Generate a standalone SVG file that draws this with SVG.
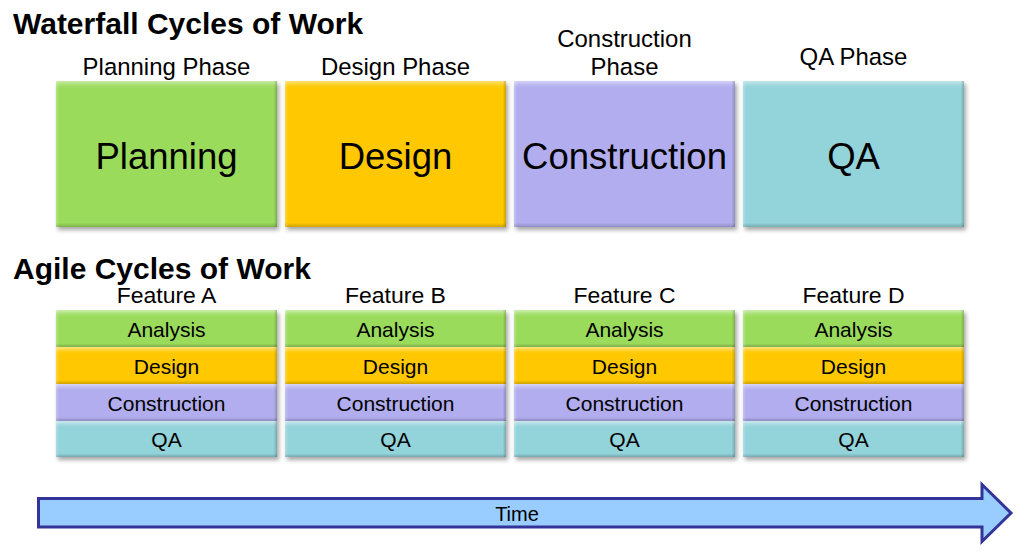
<svg xmlns="http://www.w3.org/2000/svg" width="1026" height="554" viewBox="0 0 1026 554">
<defs>
<filter id="sh" x="-5%" y="-5%" width="115%" height="130%">
<feDropShadow dx="2" dy="3" stdDeviation="2" flood-color="#000" flood-opacity="0.35"/>
</filter>
<linearGradient id="bev" x1="0" y1="0" x2="0" y2="1">
<stop offset="0" stop-color="#fff" stop-opacity="0.45"/>
<stop offset="0.03" stop-color="#fff" stop-opacity="0.1"/>
<stop offset="0.05" stop-color="#fff" stop-opacity="0"/>
<stop offset="0.97" stop-color="#000" stop-opacity="0"/>
<stop offset="1" stop-color="#000" stop-opacity="0.18"/>
</linearGradient>
<linearGradient id="bevs" x1="0" y1="0" x2="0" y2="1">
<stop offset="0" stop-color="#fff" stop-opacity="0.5"/>
<stop offset="0.12" stop-color="#fff" stop-opacity="0.1"/>
<stop offset="0.18" stop-color="#fff" stop-opacity="0"/>
<stop offset="0.9" stop-color="#000" stop-opacity="0"/>
<stop offset="1" stop-color="#000" stop-opacity="0.2"/>
</linearGradient>
<linearGradient id="bevh" x1="0" y1="0" x2="1" y2="0">
<stop offset="0" stop-color="#fff" stop-opacity="0.25"/>
<stop offset="0.015" stop-color="#fff" stop-opacity="0"/>
<stop offset="0.985" stop-color="#000" stop-opacity="0"/>
<stop offset="1" stop-color="#000" stop-opacity="0.2"/>
</linearGradient>
</defs>
<style>
text{font-family:"Liberation Sans",Arial,sans-serif;fill:#000;text-anchor:middle;transform-box:fill-box;transform-origin:center}
.title{font-size:29px;font-weight:bold;text-anchor:start;transform-origin:left center;transform:scaleX(1.035)}
.phase{font-size:23.5px;transform:scaleX(1.02)}
.big{font-size:36.5px}
.feat{font-size:22px;transform:scaleX(1.045)}
.row{font-size:20.5px;transform:scaleX(1.025)}
.time{font-size:20px}
.g{fill:#9BDB5C}
.y{fill:#FFC800}
.p{fill:#B1ADEE}
.t{fill:#93D3DA}
.sh{filter:url(#sh)}
.ov{fill:url(#bev)}
.ovs{fill:url(#bevs)}
.ovh{fill:url(#bevh)}
</style>
<text class="title" x="13" y="34">Waterfall Cycles of Work</text>
<text class="title" x="13" y="279">Agile Cycles of Work</text>

<g id="planning">
<text class="phase" x="166.5" y="75">Planning Phase</text>
<rect class="g sh" x="56" y="81" width="221" height="146"/>
<rect class="ov" x="56" y="81" width="221" height="146"/>
<rect class="ovh" x="56" y="81" width="221" height="146"/>
<text class="big" x="166.5" y="169">Planning</text>
</g>
<g id="design">
<text class="phase" x="395.5" y="75">Design Phase</text>
<rect class="y sh" x="285" y="81" width="221" height="146"/>
<rect class="ov" x="285" y="81" width="221" height="146"/>
<rect class="ovh" x="285" y="81" width="221" height="146"/>
<text class="big" x="395.5" y="169">Design</text>
</g>
<g id="construction">
<text class="phase" x="624.5" y="47">Construction</text>
<text class="phase" x="624.5" y="75">Phase</text>
<rect class="p sh" x="514" y="81" width="221" height="146"/>
<rect class="ov" x="514" y="81" width="221" height="146"/>
<rect class="ovh" x="514" y="81" width="221" height="146"/>
<text class="big" x="624.5" y="169">Construction</text>
</g>
<g id="qa">
<text class="phase" x="853.5" y="65">QA Phase</text>
<rect class="t sh" x="743" y="81" width="221" height="146"/>
<rect class="ov" x="743" y="81" width="221" height="146"/>
<rect class="ovh" x="743" y="81" width="221" height="146"/>
<text class="big" x="853.5" y="169">QA</text>
</g>

<g id="featureA">
<text class="feat" x="166.5" y="303">Feature A</text>
<rect class="t sh" x="56" y="310" width="221" height="147"/>
<rect class="g" x="56" y="310" width="221" height="37"/><rect class="ovs" x="56" y="310" width="221" height="37"/>
<rect class="y" x="56" y="347" width="221" height="37"/><rect class="ovs" x="56" y="347" width="221" height="37"/>
<rect class="p" x="56" y="384" width="221" height="37"/><rect class="ovs" x="56" y="384" width="221" height="37"/>
<rect class="t" x="56" y="421" width="221" height="36"/><rect class="ovs" x="56" y="421" width="221" height="36"/>
<rect class="ovh" x="56" y="310" width="221" height="147"/>
<text class="row" x="166.5" y="337">Analysis</text>
<text class="row" x="166.5" y="374">Design</text>
<text class="row" x="166.5" y="411">Construction</text>
<text class="row" x="166.5" y="447">QA</text>
</g>
<g id="featureB">
<text class="feat" x="395.5" y="303">Feature B</text>
<rect class="t sh" x="285" y="310" width="221" height="147"/>
<rect class="g" x="285" y="310" width="221" height="37"/><rect class="ovs" x="285" y="310" width="221" height="37"/>
<rect class="y" x="285" y="347" width="221" height="37"/><rect class="ovs" x="285" y="347" width="221" height="37"/>
<rect class="p" x="285" y="384" width="221" height="37"/><rect class="ovs" x="285" y="384" width="221" height="37"/>
<rect class="t" x="285" y="421" width="221" height="36"/><rect class="ovs" x="285" y="421" width="221" height="36"/>
<rect class="ovh" x="285" y="310" width="221" height="147"/>
<text class="row" x="395.5" y="337">Analysis</text>
<text class="row" x="395.5" y="374">Design</text>
<text class="row" x="395.5" y="411">Construction</text>
<text class="row" x="395.5" y="447">QA</text>
</g>
<g id="featureC">
<text class="feat" x="624.5" y="303">Feature C</text>
<rect class="t sh" x="514" y="310" width="221" height="147"/>
<rect class="g" x="514" y="310" width="221" height="37"/><rect class="ovs" x="514" y="310" width="221" height="37"/>
<rect class="y" x="514" y="347" width="221" height="37"/><rect class="ovs" x="514" y="347" width="221" height="37"/>
<rect class="p" x="514" y="384" width="221" height="37"/><rect class="ovs" x="514" y="384" width="221" height="37"/>
<rect class="t" x="514" y="421" width="221" height="36"/><rect class="ovs" x="514" y="421" width="221" height="36"/>
<rect class="ovh" x="514" y="310" width="221" height="147"/>
<text class="row" x="624.5" y="337">Analysis</text>
<text class="row" x="624.5" y="374">Design</text>
<text class="row" x="624.5" y="411">Construction</text>
<text class="row" x="624.5" y="447">QA</text>
</g>
<g id="featureD">
<text class="feat" x="853.5" y="303">Feature D</text>
<rect class="t sh" x="743" y="310" width="221" height="147"/>
<rect class="g" x="743" y="310" width="221" height="37"/><rect class="ovs" x="743" y="310" width="221" height="37"/>
<rect class="y" x="743" y="347" width="221" height="37"/><rect class="ovs" x="743" y="347" width="221" height="37"/>
<rect class="p" x="743" y="384" width="221" height="37"/><rect class="ovs" x="743" y="384" width="221" height="37"/>
<rect class="t" x="743" y="421" width="221" height="36"/><rect class="ovs" x="743" y="421" width="221" height="36"/>
<rect class="ovh" x="743" y="310" width="221" height="147"/>
<text class="row" x="853.5" y="337">Analysis</text>
<text class="row" x="853.5" y="374">Design</text>
<text class="row" x="853.5" y="411">Construction</text>
<text class="row" x="853.5" y="447">QA</text>
</g>

<g id="connectors">
<g id="time">
<path d="M38.5 498.5 H982 V484.5 L1011 513 L982 541.5 V527 H38.5 Z" fill="#99CCFF" stroke="#333399" stroke-width="3" stroke-linejoin="miter"/>
<text class="time" x="517" y="521">Time</text>
</g>
</g>
</svg>
